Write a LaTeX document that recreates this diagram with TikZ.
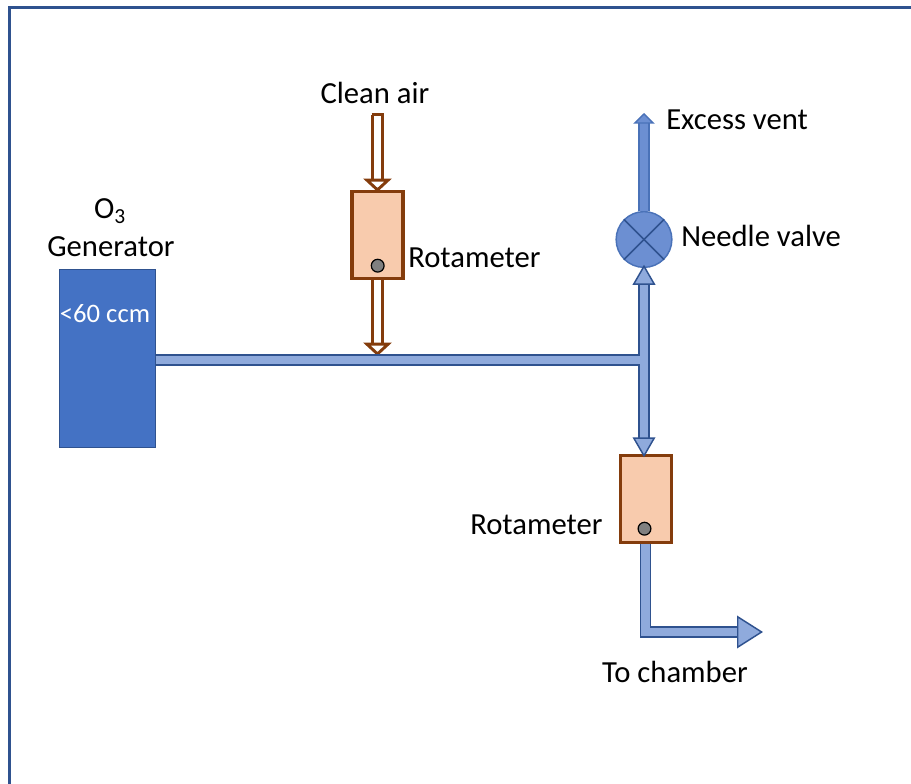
\documentclass[tikz,border=0pt]{standalone}
\usepackage{fontspec}
\setmainfont{Carlito}
\usetikzlibrary{arrows.meta}
\definecolor{framecol}{HTML}{2F528F}
\definecolor{gencol}{HTML}{4472C4}
\definecolor{pipecol}{HTML}{8FAADC}
\definecolor{ventcol}{HTML}{6C8FD2}
\definecolor{ventline}{HTML}{4A72B8}
\definecolor{brown}{HTML}{843C0C}
\definecolor{rotacol}{HTML}{F8CBAD}
\tikzset{
  label/.style={font=\fontsize{23}{27}\selectfont,inner sep=0pt},
  rota/.style={draw=brown,fill=rotacol,line width=2.3pt,minimum width=38.25pt,minimum height=65.25pt,inner sep=0pt},
  ball/.style={circle,draw=black,fill=black!50,line width=.9pt,minimum size=9.6pt,inner sep=0pt},
  pipe/.style={draw=framecol,double=pipecol,double distance=6.2pt,line width=1.2pt},
  airline/.style={draw=brown,double=white,double distance=4.8pt,line width=2.2pt},
  ventline/.style={draw=ventline,double=ventcol,double distance=6.4pt,line width=1.1pt}
}
\begin{document}
\begin{tikzpicture}[x=.75pt,y=-.75pt]
      \useasboundingbox (0,0) rectangle (911,784);
      \draw[framecol,line width=2.6pt] (9.7,784) -- (9.7,7.7) -- (911,7.7);
      % blocks
      \node[draw=framecol,fill=gencol,line width=.8pt,minimum width=71.7pt,minimum height=133.2pt,inner sep=0pt] (gen) at (107.3,358.6) {};
      \node[rota] (rotaAir) at (377.5,235) {};
      \node[rota] (rotaOut) at (645.6,499) {};
      \node[ball] (ballAir) at (377.7,265.7) {};
      \node[ball] (ballOut) at (644.5,528.7) {};
      \node[circle,draw=ventline,fill=ventcol,line width=1.1pt,minimum size=41.8pt,inner sep=0pt] (valve) at (644,239.5) {};
      \draw[framecol,line width=1.1pt] (valve.45) -- (valve.225);
      \draw[framecol,line width=1.1pt] (valve.135) -- (valve.-45);
      \coordinate (jct) at (644,360);
      \coordinate (airIn) at (377.5,113);
      \coordinate (airEnd) at (377.5,354);
      \coordinate (vent) at (644,113);
      \coordinate (outlet) at (763,632);
      % pipes
      \draw[airline,shorten >=-1.5pt,{Bar[width=9pt,line width=2.2pt]}-{Triangle[length=10pt,width=21pt,line width=2.2pt,fill=white]}] (airIn) -- (rotaAir.north);
      \draw[airline,shorten >=-1.5pt,-{Triangle[length=10pt,width=21pt,line width=2.2pt,fill=white]}] (rotaAir.south) -- (airEnd);
      \draw[ventline,-{Triangle[length=8pt,width=16pt,line width=1pt,fill=ventcol]}] (valve.north) -- (vent);
      \draw[pipe] (gen.east |- jct) -- (jct);
      \draw[pipe,shorten <=-2.5pt,shorten >=-2.5pt,{Triangle[length=15pt,width=17pt,line width=1.1pt,fill=pipecol]}-{Triangle[length=15pt,width=17pt,line width=1.1pt,fill=pipecol]}] (jct |- valve.south) -- (jct |- rotaOut.north);
      \draw[pipecol,line width=6.2pt] (gen.east |- jct) -- (jct);
      \draw[pipe,-{Triangle[length=19.5pt,width=24.5pt,line width=1.1pt,fill=pipecol]}] (rotaOut.south) |- (outlet);
      % text
      \node[label] (airText) at (375,93) {Clean air};
      \node[label,anchor=west] (ventText) at (666,120) {Excess vent};
      \node[label,anchor=west] (valveText) at (681,236) {Needle valve};
      \node[label,anchor=west] (rotaAirText) at (408,258) {Rotameter};
      \node[label,anchor=west] (rotaOutText) at (470,525) {Rotameter};
      \node[label] (genO) at (110,211) {O\textsubscript{3}};
      \node[label] (genText) at (111,247) {Generator};
      \node[label,text=white,font=\fontsize{20}{24}\selectfont] (genFlow) at (105,314) {<60 ccm};
      \node[label] (outText) at (675,672) {To chamber};
\end{tikzpicture}
\end{document}
